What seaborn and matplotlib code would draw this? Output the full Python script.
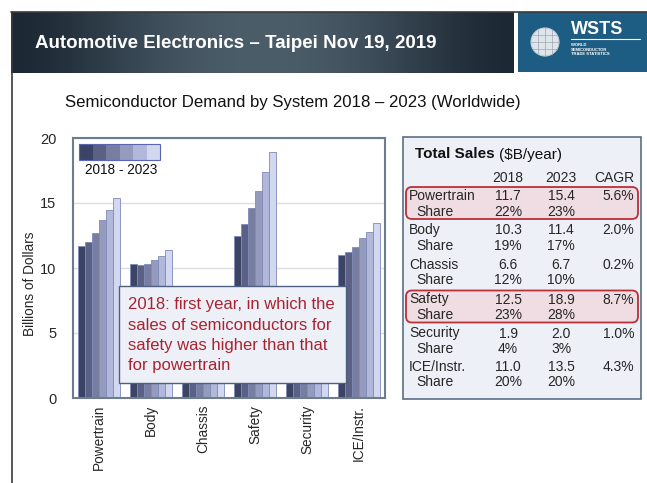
import numpy as np
import pandas as pd
import matplotlib
matplotlib.use("Agg")
import matplotlib.pyplot as plt
import seaborn as sns
from matplotlib.patches import Rectangle, FancyBboxPatch, Circle

# ---- data -------------------------------------------------------------
systems = ["Powertrain", "Body", "Chassis", "Safety", "Security", "ICE/Instr."]
years = ["2018", "2019", "2020", "2021", "2022", "2023"]
sales_2018 = [11.7, 10.3, 6.6, 12.5, 1.9, 11.0]
sales_2019 = [12.0, 10.2, 6.5, 13.4, 1.9, 11.2]
sales_2020 = [12.7, 10.3, 6.5, 14.6, 1.9, 11.6]
sales_2021 = [13.7, 10.6, 6.6, 15.9, 1.9, 12.3]
sales_2022 = [14.5, 10.9, 6.6, 17.4, 2.0, 12.8]
sales_2023 = [15.4, 11.4, 6.7, 18.9, 2.0, 13.5]
share_2018 = ["22%", "19%", "12%", "23%", "4%", "20%"]
share_2023 = ["23%", "17%", "10%", "28%", "3%", "20%"]
cagr = ["5.6%", "2.0%", "0.2%", "8.7%", "1.0%", "4.3%"]
highlighted = ["Powertrain", "Safety"]
y_ticks = [0, 5, 10, 15, 20]

yearly = [sales_2018, sales_2019, sales_2020, sales_2021, sales_2022, sales_2023]
df = pd.DataFrame(
    [(s, y, v) for y, vals in zip(years, yearly) for s, v in zip(systems, vals)],
    columns=["system", "year", "value"],
)

palette = ["#3c4466", "#5a6184", "#777e9f", "#949bbd", "#b2b8da", "#d2d8ef"]
RED = "#a8232f"
TXT = "#262626"
FONT = ["Liberation Sans", "DejaVu Sans"]

sns.set_theme(style="white")
plt.rcParams["font.family"] = FONT

W, H = 647, 483
fig = plt.figure(figsize=(W / 100, H / 100), dpi=100)
fig.patch.set_facecolor("white")

# ---- slide background layer (pixel coordinates) -----------------------
bg = fig.add_axes([0, 0, 1, 1])
bg.set_xlim(0, W)
bg.set_ylim(H, 0)
bg.axis("off")
bg.set_zorder(0)

# header band with a dark horizontal gradient
grad = np.linspace(0, 1, 256)
tone = np.sin(np.pi * grad) ** 1.5
base0 = np.array([0x1c, 0x28, 0x34]) / 255
base1 = np.array([0x4c, 0x5d, 0x6a]) / 255
img = base0[None, :] + (base1 - base0)[None, :] * tone[:, None]
img = np.clip(img, 0, 1)[None, :, :].repeat(4, axis=0)
bg.imshow(img, extent=[11, 514, 73, 12], aspect="auto", zorder=1, interpolation="bilinear")
bg.plot([11, 647], [12, 12], color="#3a3a3a", lw=1.2, zorder=2)
bg.plot([11.5, 11.5], [12, H], color="#3a3a3a", lw=1.2, zorder=2)
bg.text(35, 44, "Automotive Electronics \u2013 Taipei Nov 19, 2019", color="white",
        fontsize=13.5, fontweight="bold", va="center", ha="left", zorder=3)

# logo block
bg.add_patch(Rectangle((518, 12), 129, 60, facecolor="#1e5d83", edgecolor="none", zorder=1))
bg.add_patch(Circle((545, 42), 14, facecolor="#dfe5ea", edgecolor="#c3ccd4", lw=0.8, zorder=2))
for dy in (-7, 0, 7):
    half = np.sqrt(max(14 ** 2 - dy ** 2, 0))
    bg.plot([545 - half, 545 + half], [42 + dy, 42 + dy], color="#9aa7b3", lw=0.5, zorder=3)
for dx in (-7, 0, 7):
    half = np.sqrt(max(14 ** 2 - dx ** 2, 0))
    bg.plot([545 + dx, 545 + dx], [42 - half, 42 + half], color="#9aa7b3", lw=0.5, zorder=3)
bg.text(571, 30, "WSTS", color="white", fontsize=13, fontweight="bold", va="center",
        ha="left", zorder=3)
bg.plot([571, 640], [38.5, 38.5], color="white", lw=0.8, zorder=3)
for i, line in enumerate(["WORLD", "SEMICONDUCTOR", "TRADE STATISTICS"]):
    bg.text(571, 45.5 + i * 4.2, line, color="white", fontsize=3.0, fontweight="bold",
            va="center", ha="left", zorder=3)

bg.text(65, 102, "Semiconductor Demand by System 2018 \u2013 2023 (Worldwide)",
        fontsize=12.1, color="#111111", va="center", ha="left")

# ---- bar chart ---------------------------------------------------------
ax = fig.add_axes([73 / W, 1 - 398 / H, (385 - 73) / W, (398 - 138) / H])
ax.set_zorder(1)
sns.barplot(data=df, x="system", y="value", hue="year", palette=palette,
            width=0.8, saturation=1, legend=False, ax=ax,
            edgecolor="#8089ba", linewidth=0.6)
ax.set_ylim(0, 20)
ax.set_xlim(-0.5, len(systems) - 0.5)
ax.set_yticks(y_ticks)
ax.set_yticklabels([str(t) for t in y_ticks], fontsize=10.5, color=TXT)
ax.tick_params(axis="y", length=0, pad=12)
ax.tick_params(axis="x", length=0, pad=5)
ax.set_xticks(range(len(systems)))
ax.set_xticklabels(systems, rotation=90, fontsize=9.8, color=TXT)
ax.set_xlabel("")
ax.set_ylabel("Billions of Dollars", fontsize=9.8, color=TXT)
ax.yaxis.set_label_coords(-0.115, 0.44)
ax.grid(axis="y", color="#dedede", lw=1)
ax.set_axisbelow(True)
for sp in ax.spines.values():
    sp.set_color("#6e7c8c")
    sp.set_linewidth(1.5)

# year-range key
for i, c in enumerate(palette):
    ax.add_patch(Rectangle((0.02 + i * 0.0433, 0.915), 0.0433, 0.062, transform=ax.transAxes,
                           facecolor=c, edgecolor="none", zorder=5))
ax.add_patch(Rectangle((0.02, 0.915), 0.26, 0.062, transform=ax.transAxes,
                       facecolor="none", edgecolor="#5a66b0", lw=0.8, zorder=6))
ax.text(0.04, 0.878, "2018 - 2023", transform=ax.transAxes, fontsize=9.8,
        color="#111111", va="center", ha="left", zorder=6)

# ---- foreground layer: note box and summary table ----------------------
fg = fig.add_axes([0, 0, 1, 1])
fg.set_xlim(0, W)
fg.set_ylim(H, 0)
fg.axis("off")
fg.set_zorder(2)
fg.patch.set_alpha(0)

fg.add_patch(Rectangle((119, 286), 227, 97, facecolor="#eef0f8", edgecolor="#4f5f80",
                       lw=1.0, zorder=1))
note = ["2018: first year, in which the", "sales of semiconductors for",
        "safety was higher than that", "for powertrain"]
for i, line in enumerate(note):
    fg.text(128, 305 + i * 20.3, line, color=RED, fontsize=12, va="center", ha="left", zorder=2)

# summary table
fg.add_patch(Rectangle((403, 137), 238, 262, facecolor="#eef0f8", edgecolor="#5a6f8a",
                       lw=1.2, zorder=1))
fg.text(415, 154.5, "Total Sales", fontsize=11, fontweight="bold", color="#111111",
        va="center", ha="left", zorder=3)
fg.text(499, 154.5, "($B/year)", fontsize=11, color="#111111", va="center", ha="left", zorder=3)
col_2018, col_2023, col_cagr = 508, 561, 634
fs = 10
fg.text(col_2018, 178, "2018", fontsize=fs, ha="center", va="center", color=TXT, zorder=3)
fg.text(col_2023, 178, "2023", fontsize=fs, ha="center", va="center", color=TXT, zorder=3)
fg.text(col_cagr, 178, "CAGR", fontsize=fs, ha="right", va="center", color=TXT, zorder=3)

row_y = [196, 230, 265, 299.5, 333.5, 367]
for i, s in enumerate(systems):
    y0 = row_y[i]
    if s in highlighted:
        fg.add_patch(FancyBboxPatch((406, y0 - 9), 232, 32,
                                    boxstyle="round,pad=0,rounding_size=6",
                                    facecolor="#f0dde4", edgecolor="#b83038", lw=1.3, zorder=2))
    fg.text(409, y0, s, fontsize=fs, ha="left", va="center", color=TXT, zorder=3)
    fg.text(col_2018, y0, f"{sales_2018[i]:.1f}", fontsize=fs, ha="center", va="center",
            color=TXT, zorder=3)
    fg.text(col_2023, y0, f"{sales_2023[i]:.1f}", fontsize=fs, ha="center", va="center",
            color=TXT, zorder=3)
    fg.text(col_cagr, y0, cagr[i], fontsize=fs, ha="right", va="center", color=TXT, zorder=3)
    fg.text(416, y0 + 15.5, "Share", fontsize=fs, ha="left", va="center", color=TXT, zorder=3)
    fg.text(col_2018, y0 + 15.5, share_2018[i], fontsize=fs, ha="center", va="center",
            color=TXT, zorder=3)
    fg.text(col_2023, y0 + 15.5, share_2023[i], fontsize=fs, ha="center", va="center",
            color=TXT, zorder=3)

fig.savefig("out.png", dpi=100)
